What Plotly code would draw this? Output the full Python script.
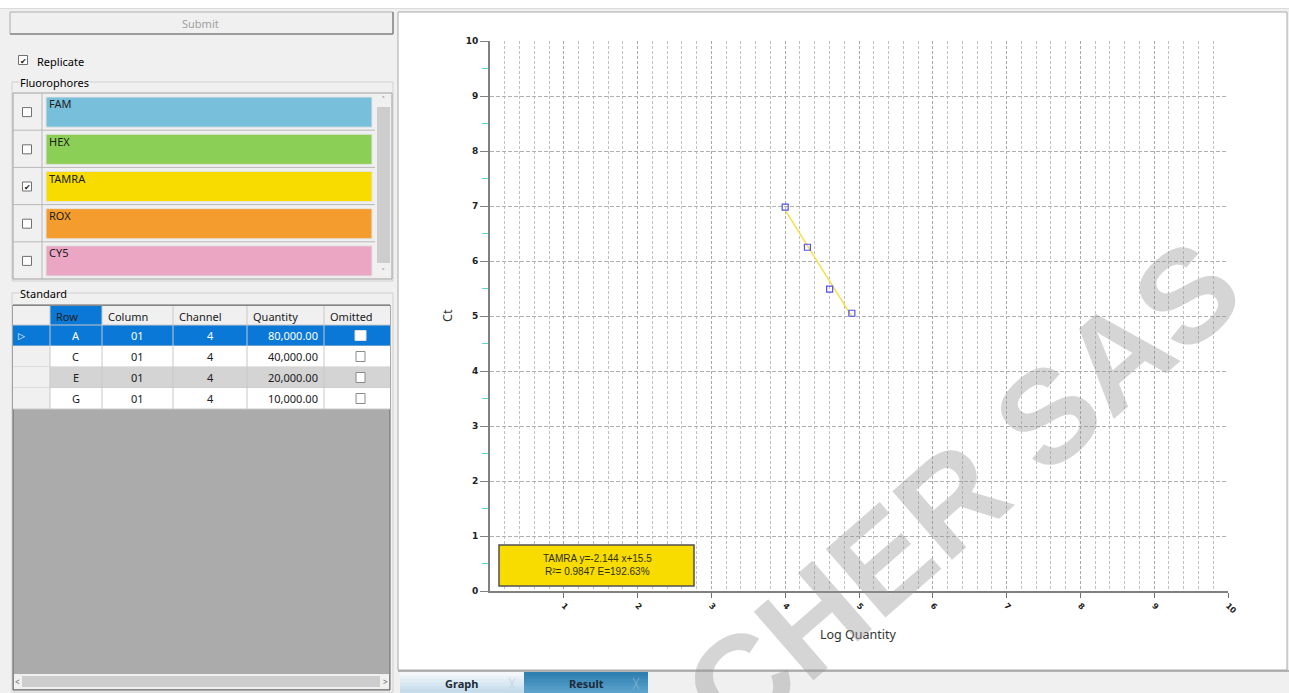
import numpy as np
import plotly.graph_objects as go

# data
fluorophores = ["FAM", "HEX", "TAMRA", "ROX", "CY5"]
fluor_colors = ["#78bfdb", "#8ccf56", "#f8dc00", "#f59c2e", "#eaa6c3"]
fluor_checked = [False, False, True, False, False]

std_header = ["Row", "Column", "Channel", "Quantity", "Omitted"]
std_rows = ["A", "C", "E", "G"]
std_columns = ["01", "01", "01", "01"]
std_channels = ["4", "4", "4", "4"]
quantities = [80000, 40000, 20000, 10000]
ct_values = [5.05, 5.49, 6.25, 6.98]

slope = -2.144
intercept = 15.5
r2 = 0.9847
efficiency = 192.63

x_ticks = [1, 2, 3, 4, 5, 6, 7, 8, 9, 10]
y_ticks = [0, 1, 2, 3, 4, 5, 6, 7, 8, 9, 10]

FONT = "Noto Sans"
W, H = 1289, 693
L, R, T, B = 490, 1228, 41, 591


def px(x):
    return (x - L) / (R - L)


def py(y):
    return (B - y) / (B - T)


shapes = []
annotations = []


def rect(x0, y0, x1, y1, fill, line=None, lw=1, layer="above"):
    shapes.append(dict(type="rect", xref="paper", yref="paper",
                       x0=px(x0), x1=px(x1), y0=py(y1), y1=py(y0),
                       fillcolor=fill, layer=layer,
                       line=dict(color=line if line else fill, width=lw if line else 0)))


def hline(x0, x1, y, color, lw=1, layer="above"):
    shapes.append(dict(type="line", xref="paper", yref="paper",
                       x0=px(x0), x1=px(x1), y0=py(y), y1=py(y),
                       line=dict(color=color, width=lw), layer=layer))


def vline(x, y0, y1, color, lw=1, layer="above"):
    shapes.append(dict(type="line", xref="paper", yref="paper",
                       x0=px(x), x1=px(x), y0=py(y0), y1=py(y1),
                       line=dict(color=color, width=lw), layer=layer))


def text(x, y, s, size=11, color="#000000", anchor="left", family=FONT, bg=None, **kw):
    a = dict(xref="paper", yref="paper", x=px(x), y=py(y), text=s, showarrow=False,
             xanchor=anchor, yanchor="middle",
             font=dict(size=size, color=color, family=family), borderpad=0)
    if bg:
        a["bgcolor"] = bg
    a.update(kw)
    annotations.append(a)


def checkbox(cx, cy, checked=False, size=9, fill="#ffffff", border="#707070"):
    rect(cx - size / 2, cy - size / 2, cx + size / 2, cy + size / 2, fill, border, 1)
    if checked:
        text(cx, cy, "✔", size=8, color="#202020", anchor="center")


def gradient(x0, y0, x1, y1, c_top, c_bot, steps=6):
    a = np.array([int(c_top[i:i + 2], 16) for i in (1, 3, 5)])
    b = np.array([int(c_bot[i:i + 2], 16) for i in (1, 3, 5)])
    h = (y1 - y0) / steps
    for k in range(steps):
        c = a + (b - a) * k / (steps - 1)
        rect(x0, y0 + k * h, x1, y0 + (k + 1) * h + 0.5,
             "rgb(%d,%d,%d)" % tuple(c.astype(int)))


# window background pieces
rect(0, 0, W, 8, "#ffffff", layer="below")
hline(0, W, 8.5, "#dcdcdc", layer="below")
# chart panel
rect(398, 12, 1287, 670, "#ffffff", "#a8a8a8", 1, layer="below")

# submit button
rect(10, 12, 393, 34, "#f0f0f0", "#adadad", 1)
hline(10, 393, 34, "#8a8a8a", 1.5)
vline(393, 12, 34, "#8a8a8a", 1.5)
text(200, 23, "Submit", size=11, color="#a0a0a0", anchor="center")

# replicate
checkbox(23, 60, True)
text(36, 61, "Replicate", size=11)

# fluorophores group
rect(12, 82, 393, 281, "rgba(0,0,0,0)", "#d0d0d0", 1)
text(19, 82, "Fluorophores", size=11, bg="#f0f0f0")
rect(13, 93, 392, 279, "#f0f0f0", "#a0a0a0", 1)
row_h = (279 - 93) / len(fluorophores)
for i, (name, col, chk) in enumerate(zip(fluorophores, fluor_colors, fluor_checked)):
    top = 93 + i * row_h
    if i > 0:
        hline(13, 375, top, "#b8b8b8", 1)
    rect(46, top + 4, 372, top + row_h - 3, col, "#e4e4e4", 1)
    text(48, top + 11, name, size=11, color="#202020")
    checkbox(27, top + row_h / 2 + 0.5, chk)
vline(42, 93, 279, "#b8b8b8", 1)
# scrollbar
rect(375, 94, 391, 278, "#f0f0f0")
rect(377, 107, 390, 263, "#cdcdcd")
text(383.5, 99, "˄", size=9, color="#606060", anchor="center")
text(383.5, 271, "˅", size=9, color="#606060", anchor="center")

# standard group
rect(12, 293, 393, 692, "rgba(0,0,0,0)", "#d0d0d0", 1)
text(19, 293, "Standard", size=11, bg="#f0f0f0")

col_edges = [13, 50, 102, 173, 247, 324, 390]
head_top, row_height = 306, 21
rect(13, 305, 390, 690, "#ababab", "#646464", 1)
# header
rect(13, head_top, 390, head_top + 19, "#f0f0f0")
rect(col_edges[1], head_top, col_edges[2], head_top + 19, "#0a78d7")
for j, h in enumerate(std_header):
    text(col_edges[j + 1] + 5, head_top + 10, h, size=11, color="#202020")
# rows
row_fills = ["#0a78d7", "#ffffff", "#d4d4d4", "#ffffff"]
for i in range(len(std_rows)):
    top = head_top + 19 + i * row_height
    fill = row_fills[i]
    rect(col_edges[1], top, col_edges[-1], top + row_height, fill)
    rect(13, top, col_edges[1], top + row_height,
         "#0a78d7" if i == 0 else "#f0f0f0")
    hline(13, col_edges[-1], top + row_height, "#c8c8c8", 1)
    tc = "#ffffff" if i == 0 else "#202020"
    cy = top + row_height / 2
    text((col_edges[1] + col_edges[2]) / 2, cy, std_rows[i], color=tc, anchor="center")
    text((col_edges[2] + col_edges[3]) / 2, cy, std_columns[i], color=tc, anchor="center")
    text((col_edges[3] + col_edges[4]) / 2, cy, std_channels[i], color=tc, anchor="center")
    text(col_edges[5] - 5, cy, f"{quantities[i]:,.2f}", color=tc, anchor="right")
    if i == 0:
        rect(355, cy - 5, 366, cy + 5, "#ffffff", "#e0e0e0", 1)
        text(21, cy, "▷", size=9, color="#ffffff", anchor="center")
    else:
        rect(356, cy - 5, 365, cy + 5, "#ffffff", "#8a8a8a", 1)
for xe in col_edges[1:-1]:
    vline(xe, head_top, head_top + 19 + len(std_rows) * row_height, "#c8c8c8", 1)
hline(13, col_edges[-1], head_top + 19, "#c8c8c8", 1)
# horizontal scrollbar
rect(14, 674, 389, 689, "#f0f0f0")
rect(22, 676, 380, 687, "#cdcdcd")
text(17, 681.5, "<", size=8, color="#606060", anchor="center")
text(385, 681.5, ">", size=8, color="#606060", anchor="center")

# bottom tabs
rect(398, 671, 1289, 693, "#f0f0f0")
hline(398, 1289, 671, "#a0a0a0", 1.5)
gradient(400, 672, 524, 693, "#f4f8fb", "#c4dceb")
gradient(524, 672, 648, 693, "#2f7fb0", "#5aa2cc")
text(461, 683, "<b>Graph</b>", size=11, color="#1e2a38", anchor="center")
text(512, 683, "╳", size=10, color="#c8d4dc", anchor="center")
text(586, 683, "<b>Result</b>", size=11, color="#1e2a38", anchor="center")
text(636, 683, "╳", size=10, color="#7fb0cf", anchor="center")

# legend box
log_q = np.log10(quantities)
rect(499, 545, 694, 586, "#f8dc00", "#505050", 1.5)
text(597, 558, f"TAMRA y={slope} x+{intercept}", size=10, color="#303010",
     anchor="center", family="Liberation Sans")
text(597, 571, f"R²= {r2} E={efficiency}%", size=10, color="#303010",
     anchor="center", family="Liberation Sans")

# axis titles
text(858, 634, "Log Quantity", size=12.5, color="#333333", anchor="center")
text(447, 316, "Ct", size=12.5, color="#333333", anchor="center", textangle=-90)

# watermark
text(962, 490, "<b>CHER SAS</b>", size=132, color="rgba(150,150,150,0.40)",
     anchor="center", family="Liberation Sans", textangle=-41)

fit_x = [log_q.min(), log_q.max()]
fit_y = [slope * v + intercept for v in fit_x]

fig = go.Figure()
fig.add_trace(go.Scatter(x=fit_x, y=fit_y, mode="lines",
                         line=dict(color="#f5df4a", width=1.5), hoverinfo="skip"))
fig.add_trace(go.Scatter(x=log_q, y=ct_values, mode="markers",
                         marker=dict(symbol="square-open", size=6, color="#5050f0",
                                     line=dict(width=1.2))))

fig.update_layout(
    width=W, height=H,
    margin=dict(l=L, r=W - R, t=T, b=H - B, pad=0),
    paper_bgcolor="#f0f0f0",
    plot_bgcolor="#ffffff",
    showlegend=False,
    shapes=shapes,
    annotations=annotations,
    xaxis=dict(range=[0, 10], tickvals=x_ticks, ticktext=[str(v) for v in x_ticks],
               tickangle=45, tickfont=dict(size=8, family="DejaVu Sans", color="#202020", weight="bold"),
               ticks="outside", ticklen=5, tickcolor="#707070",
               showline=True, linecolor="#808080", linewidth=1.5,
               showgrid=True, gridcolor="#a8a8a8", griddash="3px,2px", gridwidth=1,
               minor=dict(dtick=0.2, showgrid=True, gridcolor="#c0c0c0", griddash="3px,2px"),
               zeroline=False, fixedrange=True),
    yaxis=dict(range=[0, 10], tickvals=y_ticks,
               tickfont=dict(size=9, family="DejaVu Sans", color="#202020", weight="bold"),
               ticks="outside", ticklen=8, tickcolor="#808080",
               showline=True, linecolor="#808080", linewidth=2,
               showgrid=True, gridcolor="#b0b0b0", griddash="4px,2px", gridwidth=1,
               minor=dict(dtick=0.5, ticks="outside", ticklen=6, tickcolor="#5ad8c8", showgrid=False),
               zeroline=False, fixedrange=True),
)

fig.write_html("out.html", config={"displayModeBar": False},
               post_script="document.body.style.margin='0';")
